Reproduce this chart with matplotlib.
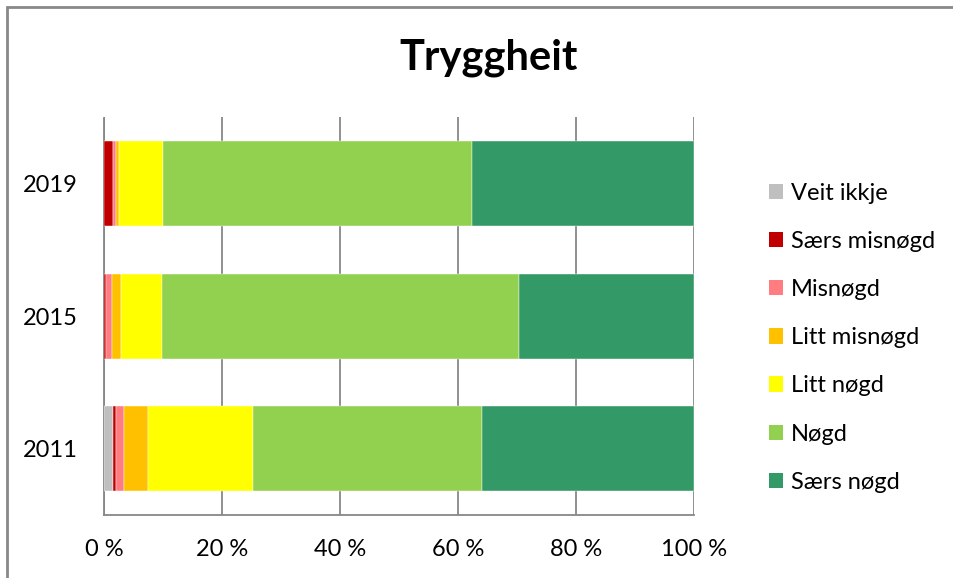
import matplotlib.pyplot as plt
import numpy as np
from matplotlib.patches import Rectangle, Patch

plt.rcParams['font.family'] = ['Lato', 'DejaVu Sans']

years = ["2011", "2015", "2019"]
categories = ["Veit ikkje", "Særs misnøgd", "Misnøgd", "Litt misnøgd",
              "Litt nøgd", "Nøgd", "Særs nøgd"]
colors = ["#BFBFBF", "#C00000", "#FF7C80", "#FFC000",
          "#FFFF00", "#92D050", "#339966"]

# share (%) per answer, rows follow `years`
veit_ikkje   = [1.5, 0.0, 0.0]
saers_misn   = [0.5, 0.3, 1.6]
misnogd      = [1.4, 1.0, 0.5]
litt_misn    = [4.0, 1.6, 0.5]
litt_nogd    = [17.8, 6.9, 7.4]
nogd         = [38.8, 60.5, 52.4]
saers_nogd   = [36.0, 29.7, 37.6]

series = [veit_ikkje, saers_misn, misnogd, litt_misn, litt_nogd, nogd, saers_nogd]

fig = plt.figure(figsize=(9.54, 5.78), dpi=100)
ax = fig.add_axes([104 / 954, 63 / 578, 590 / 954, 397.5 / 578])

grid_c = "#878787"
y = np.arange(len(years))
left = np.zeros(len(years))
for vals, col, lab in zip(series, colors, categories):
    vals = np.array(vals)
    ax.barh(y, vals, left=left, height=0.64, color=col, label=lab,
            edgecolor="white", linewidth=0.3, zorder=3)
    left += vals

ax.set_xlim(0, 100)
ax.set_ylim(-0.5, 2.5)
ax.set_yticks(y)
ax.set_yticklabels(years, fontsize=17)
ax.set_xticks(np.arange(0, 101, 20))
ax.set_xticklabels([f"{v} %" for v in range(0, 101, 20)], fontsize=17)
ax.tick_params(length=0)
ax.tick_params(axis="x", pad=17)
ax.tick_params(axis="y", pad=19)
ax.xaxis.grid(True, color=grid_c, linewidth=1.3, zorder=0)
for side in ["top", "right"]:
    ax.spines[side].set_visible(False)
for side in ["left", "bottom"]:
    ax.spines[side].set_color(grid_c)
    ax.spines[side].set_linewidth(1.3)

fig.text(0.512, 0.9, "Tryggheit", ha="center", va="center",
         fontsize=30, fontweight="bold")

handles = [Patch(facecolor=c, edgecolor="none") for c in colors]
fig.legend(handles, categories, loc="upper left",
           bbox_to_anchor=(757 / 954, 1 - 171 / 578), frameon=False,
           fontsize=17, handlelength=0.62, handleheight=0.62,
           handletextpad=0.3, labelspacing=1.15, borderpad=0)

# chart border
fig.patches.append(Rectangle((7.5 / 954, -0.1), 1.2, (578 - 7) / 578 + 0.1,
                             transform=fig.transFigure, fill=False,
                             edgecolor="#888888", linewidth=2))

fig.savefig("out.png", dpi=100)
